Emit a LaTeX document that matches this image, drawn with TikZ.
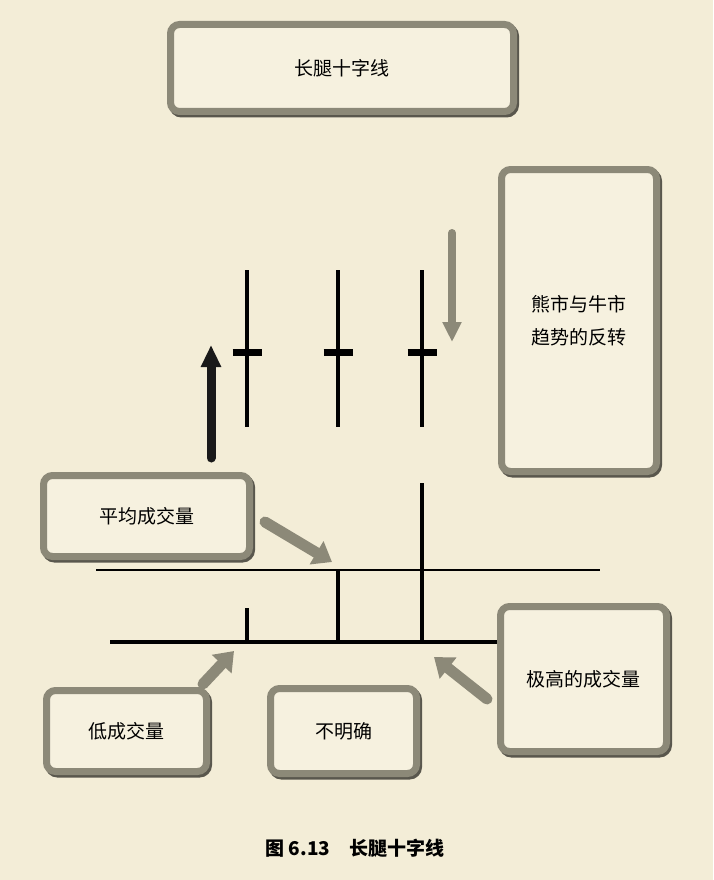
\documentclass[tikz,border=0pt]{standalone}
\usepackage{fontspec}
\setmainfont{Noto Sans CJK SC}
\usepackage{tikz}
\usetikzlibrary{arrows.meta, shadows}
\definecolor{paperColor}{HTML}{F3EDD7}
\definecolor{boxColor}{HTML}{F6F1DF}
\definecolor{frameColor}{HTML}{8C8978}
\definecolor{shadeColor}{HTML}{3F3D35}

\begin{document}
\begin{tikzpicture}[x=1pt, y=-1pt,
    panel/.style={draw=frameColor, line width=7pt, fill=boxColor, rounded corners=9pt,
        drop shadow={shadow xshift=2pt, shadow yshift=-2.5pt, fill=shadeColor,
            draw=shadeColor, line width=7pt, opacity=0.85},
        font=\fontsize{19}{33}\selectfont, align=center, inner sep=0pt},
    pointer/.style={frameColor, line width=11pt, line cap=round,
        -{Triangle[width=26pt, length=18pt]}}]
    \fill[paperColor] (0, 0) rectangle (713, 880);
    \useasboundingbox (0, 0) rectangle (713, 880);

    % candles
    \foreach \x in {247, 338, 422} {
        \draw[line width=4.5pt] (\x, 270) -- (\x, 427);
        \draw[line width=7pt] (\x-14.5, 352) -- (\x+14.5, 352);
    }

    % volume
    \draw[line width=2pt] (96, 570) -- (600, 570);
    \draw[line width=4pt] (110, 642) -- (505, 642);
    \draw[line width=3.5pt] (247, 608) -- (247, 642);
    \draw[line width=3.5pt] (338, 570) -- (338, 642);
    \draw[line width=3.5pt] (422, 483) -- (422, 642);

    \node[panel, minimum width=343pt, minimum height=87pt] (title) at (342, 68) {长腿十字线};
    \node[panel, minimum width=155pt, minimum height=302pt] (reversal) at (579, 320.5) {熊市与牛市\\趋势的反转};
    \node[panel, minimum width=206pt, minimum height=81pt] (avgVol) at (146.5, 516) {平均成交量};
    \node[panel, minimum width=160pt, minimum height=81pt] (lowVol) at (126.5, 731) {低成交量};
    \node[panel, minimum width=146pt, minimum height=85pt] (unclear) at (343.5, 731) {不明确};
    \node[panel, minimum width=166pt, minimum height=145pt] (highVol) at (583.5, 679) {极高的成交量};

    \node[font=\bfseries\fontsize{19}{19}\selectfont] (caption) at (355, 848) {图 6.13\hspace{1em}长腿十字线};

    % arrows
    \coordinate (upTail) at (211, 458);
    \coordinate (upTip) at (211, 345);
    \coordinate (downTail) at (452, 233);
    \coordinate (downTip) at (452, 342);
    \coordinate (avgTail) at (265, 522);
    \coordinate (avgTip) at (332, 562);
    \coordinate (lowTail) at (203, 684);
    \coordinate (lowTip) at (234, 651);
    \coordinate (highTail) at (487, 699);
    \coordinate (highTip) at (434, 657);

    \draw[black!90, line width=9pt, line cap=round, -{Triangle[width=19pt, length=22pt]}] (upTail) -- (upTip);
    \draw[frameColor, line width=8pt, line cap=round, -{Triangle[width=18pt, length=20pt]}] (downTail) -- (downTip);
    \draw[pointer] (avgTail) -- (avgTip);
    \draw[pointer] (lowTail) -- (lowTip);
    \draw[pointer] (highTail) -- (highTip);
\end{tikzpicture}
\end{document}
